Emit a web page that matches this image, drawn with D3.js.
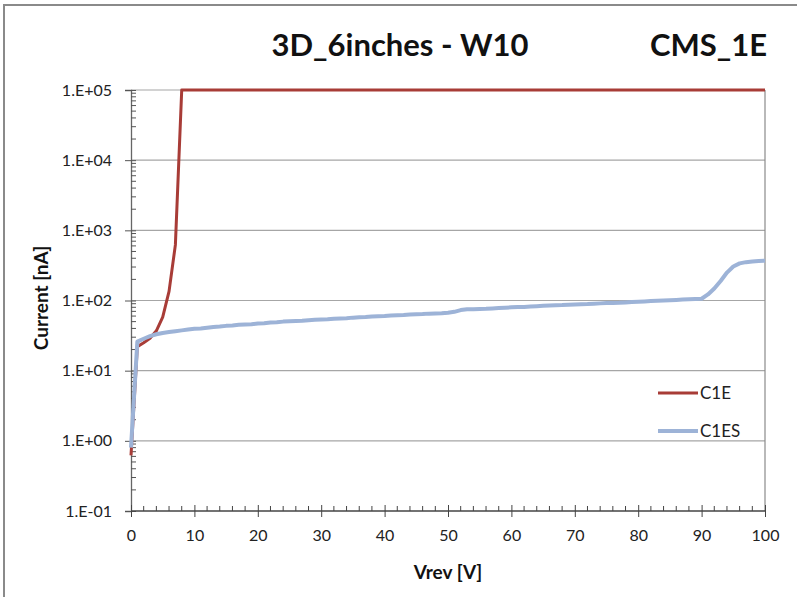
<!DOCTYPE html>
<html><head><meta charset="utf-8">
<script src="https://cdn.jsdelivr.net/npm/d3@7"></script>
<style>body{margin:0;background:#fff;}svg{display:block;}</style>
</head><body>
<svg id="c" width="797" height="597"></svg>
<script>
// ---- data ----
const title = "3D_6inches - W10";
const subtitle = "CMS_1E";
const xLabel = "Vrev [V]";
const yLabel = "Current [nA]";
const xTicks = [0,10,20,30,40,50,60,70,80,90,100];
const yTicks = [1e-1,1e0,1e1,1e2,1e3,1e4,1e5];
const yTickLabels = ["1.E-01","1.E+00","1.E+01","1.E+02","1.E+03","1.E+04","1.E+05"];
const seriesNames = ["C1E","C1ES"];
const vC1E = [0,1,2,3,4,5,6,7,8,100];
const iC1E = [0.62,22,25,29,37,58,135,620,1e5,1e5];
const vC1ES = [0,1,2,3,4,5,6,7,8,9,10,11,12,13,14,15,16,17,18,19,20,21,22,23,24,25,26,27,28,29,30,31,32,33,34,35,36,37,38,39,40,41,42,43,44,45,46,47,48,49,50,51,52,53,54,55,56,57,58,59,60,61,62,63,64,65,66,67,68,69,70,71,72,73,74,75,76,77,78,79,80,81,82,83,84,85,86,87,88,89,90,91,92,93,94,95,96,97,98,99,100];
const iC1ES = [0.8,26,28.5,31,33,34.5,35.5,36.5,37.5,38.5,39.5,40,41,42,42.5,43.5,44,45,45.5,46,47,47.5,48.5,49,50,50.5,51,51.5,52.5,53,53.5,54,55,55.5,56,57,57.5,58,59,59.5,60,61,61.5,62,63,63.5,64,65,65.5,66,67,69,73,75,75,75.5,76,77,78,79,80,80.5,81,82,83,84,85,85.5,86,87,88,88.5,89,90,91,92,92.5,93,94,95,96,97,98,99,100,101,102,103,104,105,106,122,148,190,250,305,338,352,360,366,370];
const colors = ["#a83c37","#9db3d7"];

// ---- chart ----
const svg = d3.select("#c");
const font = "Lato, 'Open Sans', sans-serif";
const L=131, R=765, T=90, B=511;
const x = d3.scaleLinear().domain([0,100]).range([L,R]);
const y = d3.scaleLog().domain([1e-1,1e5]).range([B,T]);

// frame
svg.append("path").attr("d","M4,597 V5 H797").attr("fill","none").attr("stroke","#8a8a8a").attr("stroke-width",2);

// gridlines
svg.append("g").selectAll("line").data(yTicks.slice(1)).join("line")
  .attr("x1",L).attr("x2",R).attr("y1",d=>y(d)).attr("y2",d=>y(d))
  .attr("stroke","#a6a6a6").attr("stroke-width",1.2);
// right border
svg.append("line").attr("x1",R).attr("x2",R).attr("y1",T).attr("y2",B).attr("stroke","#8a8a8a").attr("stroke-width",1.2);

// y axis
const yMinor = [];
for (let e=-1;e<5;e++) for (let k=2;k<=9;k++) yMinor.push(k*Math.pow(10,e));
const gy = svg.append("g").attr("transform",`translate(${L},0)`);
gy.call(d3.axisLeft(y).tickValues(yTicks).tickFormat((d,i)=>yTickLabels[i]).tickSize(6).tickPadding(13));
gy.selectAll(".tick line").attr("x2",-6).attr("x1",5);
gy.append("g").selectAll("line").data(yMinor).join("line")
  .attr("x1",0).attr("x2",5).attr("y1",d=>y(d)).attr("y2",d=>y(d)).attr("stroke","#555");
gy.select(".domain").attr("stroke","#666").attr("stroke-width",1.3);
gy.selectAll(".tick line").attr("stroke","#555");
gy.selectAll("text").attr("font-family",font).attr("font-size",16).attr("fill","#222");

// x axis
const gx = svg.append("g").attr("transform",`translate(0,${B})`);
gx.call(d3.axisBottom(x).tickValues(xTicks).tickSize(6).tickPadding(13));
gx.selectAll(".tick line").attr("y1",-6).attr("y2",6).attr("stroke","#444");
gx.append("g").selectAll("line").data(d3.range(0,101,2).filter(v=>v%10)).join("line")
  .attr("x1",d=>x(d)).attr("x2",d=>x(d)).attr("y1",0).attr("y2",-5).attr("stroke","#444");
gx.select(".domain").attr("stroke","#444").attr("stroke-width",1.3).attr("d",`M${L},0H${R}`);
gx.selectAll("text").attr("font-family",font).attr("font-size",16).attr("fill","#222");

// lines
const line = d3.line().x(d=>x(d[0])).y(d=>y(d[1]));
const d1 = vC1E.map((v,i)=>[v,iC1E[i]]);
const d2 = vC1ES.map((v,i)=>[v,iC1ES[i]]);
svg.append("path").attr("d",line(d1)).attr("fill","none").attr("stroke",colors[0]).attr("stroke-width",3).attr("stroke-linejoin","round");
svg.append("path").attr("d",line(d2)).attr("fill","none").attr("stroke",colors[1]).attr("stroke-width",4).attr("stroke-linejoin","round");

// titles
svg.append("text").attr("x",400).attr("y",56).attr("text-anchor","middle").attr("font-family",font).attr("font-weight","bold").attr("font-size",31).attr("fill","#111").text(title);
svg.append("text").attr("x",767).attr("y",56).attr("text-anchor","end").attr("font-family",font).attr("font-weight","bold").attr("font-size",31).attr("fill","#111").text(subtitle);
svg.append("text").attr("x",448).attr("y",579).attr("text-anchor","middle").attr("font-family",font).attr("font-weight","bold").attr("font-size",19).attr("fill","#111").text(xLabel);
svg.append("text").attr("transform","translate(48,298) rotate(-90)").attr("text-anchor","middle").attr("font-family",font).attr("font-weight","bold").attr("font-size",19).attr("fill","#111").text(yLabel);

// legend
const lg = svg.append("g");
[393,431].forEach((yy,i)=>{
  lg.append("line").attr("x1",658).attr("x2",698).attr("y1",yy).attr("y2",yy).attr("stroke",colors[i]).attr("stroke-width",i?4:3);
  lg.append("text").attr("x",700).attr("y",yy+6).attr("font-family",font).attr("font-size",17).attr("fill","#222").text(seriesNames[i]);
});
</script>
</body></html>
